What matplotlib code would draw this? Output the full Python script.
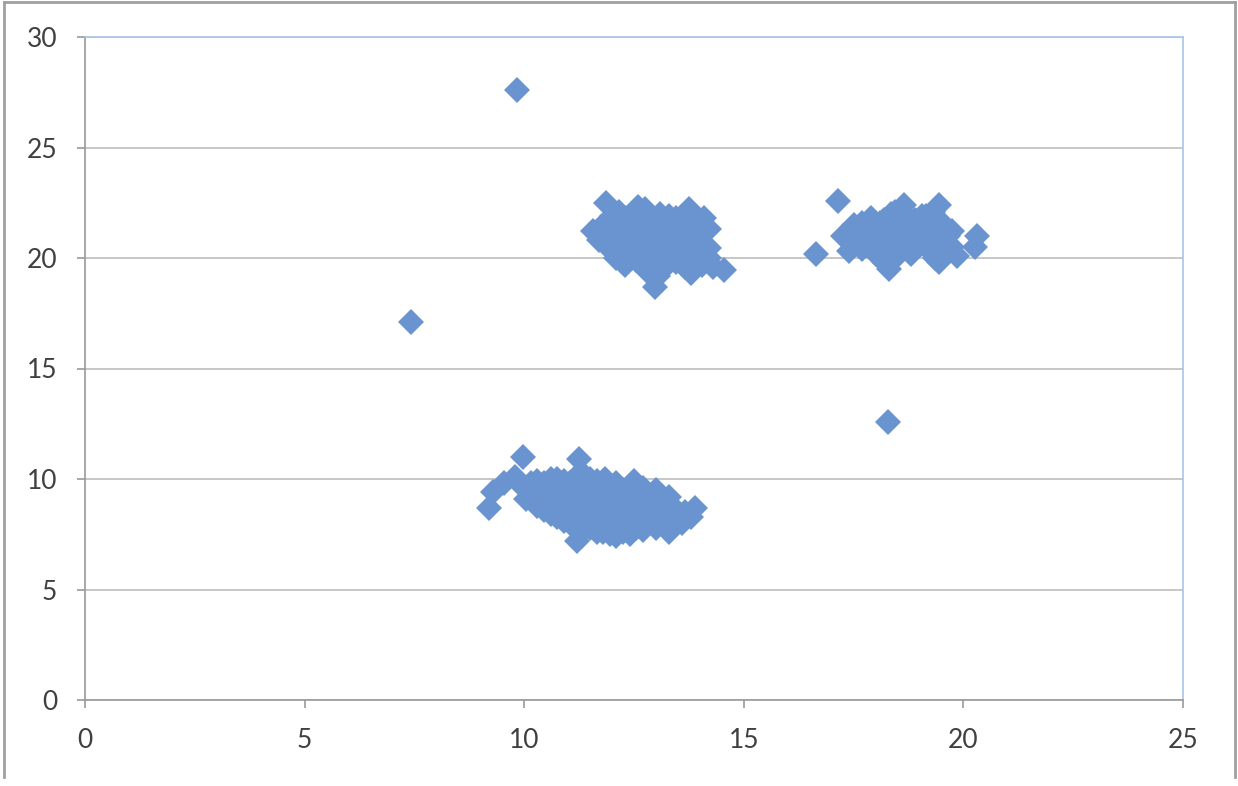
import numpy as np
import matplotlib.pyplot as plt
from matplotlib.lines import Line2D

# lower cluster
low_x = [9.2, 9.3, 9.55, 9.8, 9.97, 10.0, 10.05, 10.15, 10.15,
         10.3, 10.3, 10.3,
         10.45, 10.45, 10.45,
         10.6, 10.6, 10.6, 10.6,
         10.75, 10.75, 10.75, 10.75,
         10.9, 10.9, 10.9, 10.9,
         11.05, 11.05, 11.05, 11.05,
         11.2, 11.2, 11.2, 11.2, 11.2, 11.25, 11.3,
         11.35, 11.35, 11.35, 11.35,
         11.5, 11.5, 11.5, 11.5, 11.5,
         11.65, 11.65, 11.65, 11.65, 11.65,
         11.8, 11.8, 11.8, 11.8, 11.85,
         11.95, 11.95, 11.95, 11.95, 11.95,
         12.1, 12.1, 12.1, 12.1, 12.1,
         12.25, 12.25, 12.25, 12.25,
         12.4, 12.4, 12.4, 12.4, 12.5,
         12.55, 12.55, 12.55, 12.55,
         12.7, 12.7, 12.7, 12.7,
         12.85, 12.85, 12.85,
         13.0, 13.0, 13.0, 13.0,
         13.15, 13.15, 13.15,
         13.3, 13.3, 13.3, 13.3,
         13.45, 13.45,
         13.6, 13.65, 13.9, 13.8]
low_y = [8.7, 9.4, 9.8, 10.1, 11.0, 9.6, 9.1, 9.2, 9.8,
         8.8, 9.4, 9.9,
         8.6, 9.2, 9.8,
         8.4, 9.0, 9.6, 10.0,
         8.3, 8.9, 9.5, 10.0,
         8.1, 8.7, 9.3, 9.9,
         8.0, 8.6, 9.2, 9.8,
         7.2, 7.9, 8.5, 9.1, 9.7, 10.9, 10.3,
         7.7, 8.3, 8.9, 9.5,
         7.8, 8.4, 9.0, 9.6, 10.0,
         7.6, 8.1, 8.7, 9.3, 9.9,
         7.6, 8.2, 8.8, 9.4, 10.0,
         7.5, 7.9, 8.5, 9.1, 9.7,
         7.4, 8.0, 8.6, 9.2, 9.8,
         7.6, 8.3, 8.9, 9.5,
         7.5, 8.1, 8.7, 9.3, 9.9,
         7.8, 8.4, 9.0, 9.6,
         7.7, 8.3, 8.9, 9.6,
         8.0, 8.6, 9.2,
         7.8, 8.4, 9.0, 9.5,
         7.9, 8.5, 9.1,
         7.6, 8.2, 8.8, 9.2,
         8.0, 8.6,
         8.0, 8.5, 8.7, 8.3]

# middle upper cluster
mid_x = [11.57, 11.7, 11.75, 11.75, 11.86, 11.95, 11.9,
         12.0, 12.0, 12.0,
         12.1, 12.1, 12.1, 12.15,
         12.2, 12.2, 12.2,
         12.3, 12.3, 12.35, 12.3,
         12.45, 12.45, 12.45, 12.45,
         12.55, 12.55, 12.55, 12.6,
         12.7, 12.7, 12.7, 12.7,
         12.8, 12.8, 12.8, 12.8, 12.75,
         12.9, 12.9, 12.9, 12.9,
         12.98, 13.05, 13.05, 13.05, 13.05, 13.1,
         13.2, 13.2, 13.2, 13.2,
         13.3, 13.3, 13.3, 13.3,
         13.45, 13.45, 13.45, 13.45,
         13.55, 13.55, 13.55,
         13.65, 13.65, 13.65, 13.65,
         13.75, 13.8, 13.8, 13.8, 13.8,
         13.95, 13.95, 13.95,
         14.1, 14.05, 14.0, 14.05,
         14.2, 14.2, 14.2, 14.55, 14.3]
mid_y = [21.2, 20.8, 21.0, 21.4, 22.5, 20.4, 21.6,
         20.6, 21.2, 21.9,
         20.0, 20.8, 21.5, 22.1,
         20.3, 21.0, 21.7,
         19.7, 20.4, 21.1, 21.8,
         20.0, 20.7, 21.4, 22.0,
         19.9, 20.6, 21.3, 22.3,
         19.8, 20.5, 21.2, 21.9,
         19.4, 20.2, 20.9, 21.7, 22.2,
         19.6, 20.3, 21.0, 21.6,
         18.7, 19.2, 20.0, 20.7, 21.4, 22.0,
         19.6, 20.3, 21.0, 21.7,
         19.9, 20.6, 21.3, 21.9,
         19.8, 20.5, 21.2, 21.8,
         20.2, 20.9, 21.6,
         19.6, 20.3, 21.0, 21.7,
         22.2, 19.3, 20.0, 20.7, 21.4,
         19.9, 20.6, 21.3,
         21.8, 21.1, 20.4, 19.7,
         20.0, 20.45, 21.3, 19.45, 19.6]

# right upper cluster
right_x = [16.65, 17.15, 17.25, 17.4, 17.45, 17.45, 17.5, 17.6,
           17.7, 17.7, 17.7,
           17.8, 17.8, 17.9,
           17.95, 17.95,
           18.0, 18.05, 18.1,
           18.2, 18.2, 18.2, 18.2,
           18.3, 18.3, 18.3, 18.3, 18.35,
           18.45, 18.45, 18.45, 18.45,
           18.55, 18.55, 18.6, 18.65,
           18.7, 18.7, 18.7,
           18.8, 18.8, 18.8,
           18.9, 18.9, 18.9,
           19.0, 19.0, 19.05,
           19.15, 19.15, 19.15,
           19.25, 19.25, 19.3,
           19.35, 19.35, 19.35,
           19.45, 19.45, 19.45, 19.45,
           19.55, 19.55, 19.55,
           19.65, 19.65,
           19.75, 19.75,
           19.85, 20.27, 20.31]
right_y = [20.2, 22.6, 21.0, 20.3, 20.7, 21.2, 21.5, 20.9,
           20.4, 21.0, 21.6,
           20.6, 21.3, 21.8,
           20.5, 21.3,
           20.2, 21.0, 21.6,
           19.8, 20.4, 21.1, 21.7,
           19.5, 20.0, 20.7, 21.4, 22.0,
           20.0, 20.7, 21.4, 22.1,
           20.4, 21.1, 21.8, 22.4,
           20.5, 21.2, 21.9,
           20.2, 20.9, 21.5,
           20.4, 21.1, 21.7,
           20.6, 21.3, 21.9,
           20.6, 21.3, 21.9,
           20.3, 21.0, 22.1,
           20.0, 20.8, 21.5,
           19.8, 20.5, 21.2, 22.4,
           20.1, 20.8, 21.5,
           20.3, 21.0,
           20.5, 21.2,
           20.1, 20.5, 21.0]

outlier_x = [9.84, 7.42, 18.28]
outlier_y = [27.6, 17.1, 12.6]

xs = low_x + mid_x + right_x + outlier_x
ys = low_y + mid_y + right_y + outlier_y

plt.rcParams['font.family'] = ['Lato', 'DejaVu Sans']

fig = plt.figure(figsize=(12.38, 7.86), dpi=100)
ax = fig.add_axes([85 / 1238, 1 - 700 / 786, 1098 / 1238, 663 / 786])

ax.plot(xs, ys, linestyle='none', marker='D', markersize=13.5,
        color='#6a94cf', markeredgewidth=0, zorder=3)

ax.set_xlim(0, 25)
ax.set_ylim(0, 30)
ax.set_xticks(np.arange(0, 26, 5))
ax.set_yticks(np.arange(0, 31, 5))
ax.yaxis.grid(True, color='#bdbdbd', linewidth=1.2)
ax.set_axisbelow(True)

ax.spines['left'].set_color('#9a9a9a')
ax.spines['bottom'].set_color('#9a9a9a')
ax.spines['top'].set_color('#a9c4e8')
ax.spines['right'].set_color('#a9c4e8')
for s in ax.spines.values():
    s.set_linewidth(1.2)

ax.tick_params(axis='both', direction='out', length=6, width=1.2,
               color='#9a9a9a', labelsize=19, labelcolor='#404040')
ax.tick_params(axis='y', pad=14)
ax.tick_params(axis='x', pad=14)

# outer frame of the picture
frame_col = '#a0a0a0'
fig.add_artist(Line2D([4 / 1238, 4 / 1238], [1 - 777 / 786, 1 - 2 / 786],
                      transform=fig.transFigure, color=frame_col, lw=2))
fig.add_artist(Line2D([1235 / 1238, 1235 / 1238], [1 - 777 / 786, 1 - 2 / 786],
                      transform=fig.transFigure, color=frame_col, lw=2))
fig.add_artist(Line2D([4 / 1238, 1235 / 1238], [1 - 2 / 786, 1 - 2 / 786],
                      transform=fig.transFigure, color=frame_col, lw=2))

fig.savefig('out.png', dpi=100)
